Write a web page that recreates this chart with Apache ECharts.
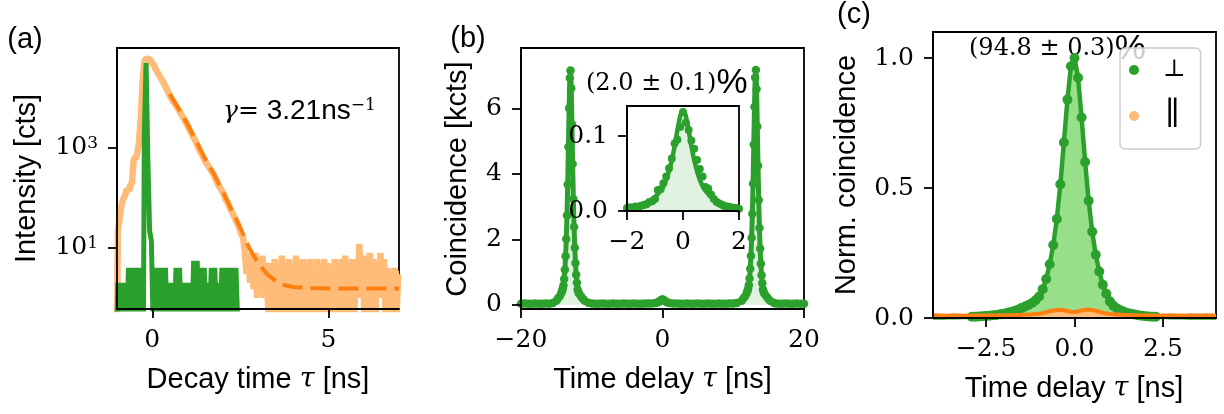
<!DOCTYPE html>
<html><head><meta charset="utf-8">
<script src="https://cdn.jsdelivr.net/npm/echarts@6/dist/echarts.min.js"></script>
<style>html,body{margin:0;padding:0;background:#fff}#c{width:1224px;height:414px}</style>
</head><body><div id="c"></div>
<script>
// ---------- Panel (a): decay histogram (log scale) ----------
const aStart = -1.0, aStep = 0.05;   // time axis of the histograms [ns]
const aDecay = [
 0.3,22,40,70,95,110,150,140,180,200,600,650,800,1300,4000,20000,55000,62000,60000,56000,
 50000,46000,40000,35000,30000,26000,23000,20000,17000,14500,12000,10300,8900,8000,7000,6200,5400,4700,4100,3550,
 3050,2600,2200,1900,1600,1380,1150,960,820,700,600,510,450,400,350,310,260,220,180,160,
 140,120,95,85,70,58,50,42,36,30,24,19,16,9,3,8,2,7,1.5,8,
 1,6,2,7,1,5,1,0.3,
 5,0.3,6,0.3,4,0.3,7,0.3,5,0.3,6,0.3,4,0.3,7,0.3,5,0.3,6,0.3,5,0.3,6,0.3,4,0.3,6,0.3,5,0.3,6,0.3,
 5,0.3,4,0.3,6,0.3,5,0.3,6,0.3,7,0.3,5,0.3,6,0.3,5,1,12,1,5,0.3,7,0.3,8,0.3,6,0.3,5,1,8,1,6,0.3,
 4,0.3,3,0.3,4,0.3,3
];
const aIrf = [
 0.3,2,0.3,2,0.3,2,0.3,4,0.3,4,0.3,4,0.3,4,0.3,0.3,2000,50000,600,22,
 14,0.3,4,0.3,4,0.3,4,0.3,4,0.3,2,0.3,2,0.3,4,0.3,4,0.3,2,0.3,
 2,0.3,2,0.3,5.5,0.3,5.5,0.3,4,0.3,4,0.3,2,0.3,4,0.3,4,0.3,2,0.3,
 4,0.3,4,0.3,4,0.3,4,0.3,4,0.3
];
const aFitTime  = [0.5,0.75,1,1.25,1.5,1.75,2,2.25,2.5,2.75,3,3.25,3.5,3.75,4,4.5,5,6,7];
const aFitValue = [12000,6000,3000,1350,600,300,135,58,25,10,5.0,3.0,2.2,1.8,1.65,1.57,1.55,1.55,1.55];
const aTicksX = [0,5];
const aTicksY = [10,1000];

// ---------- Panel (b): coincidence histogram [kcts] ----------
const bPoints = [
 [-20,0.03],[-19.5,0.04],[-19,0.03],[-18.5,0.03],[-18,0.04],[-17.5,0.03],[-17,0.03],[-16.5,0.04],[-16,0.03],[-15.5,0.05],
 [-15,0.12],[-14.75,0.20],[-14.5,0.27],[-14.3,0.36],[-14.2,0.42],[-14.1,0.49],[-14,0.59],[-13.9,0.79],[-13.8,1.07],[-13.7,1.48],
 [-13.6,2.01],[-13.5,2.73],[-13.4,3.68],[-13.3,4.83],[-13.2,6.01],[-13.1,6.93],[-13,7.16],[-12.9,6.62],[-12.8,5.52],[-12.7,4.30],
 [-12.6,3.23],[-12.5,2.38],[-12.4,1.74],[-12.3,1.28],[-12.2,0.92],[-12.1,0.67],[-12,0.47],[-11.9,0.39],[-11.8,0.34],[-11.5,0.25],
 [-11.25,0.18],[-11,0.12],[-10.5,0.06],
 [-10,0.04],[-9.5,0.03],[-9,0.03],[-8.5,0.04],[-8,0.03],[-7.5,0.03],[-7,0.04],[-6.5,0.03],[-6,0.03],[-5.5,0.04],[-5,0.03],
 [-4.5,0.03],[-4,0.04],[-3.5,0.03],[-3,0.03],[-2.5,0.04],[-2,0.04],
 [-1.5,0.04],[-1,0.05],[-0.7,0.07],[-0.5,0.09],[-0.3,0.12],[-0.2,0.14],[-0.1,0.155],[0,0.16],[0.1,0.155],[0.2,0.14],
 [0.3,0.12],[0.5,0.09],[0.7,0.07],[1,0.05],[1.5,0.04],
 [2,0.04],[2.5,0.03],[3,0.03],[3.5,0.04],[4,0.03],[4.5,0.03],[5,0.04],[5.5,0.03],[6,0.03],[6.5,0.04],[7,0.03],[7.5,0.03],
 [8,0.04],[8.5,0.03],[9,0.03],[9.5,0.04],[10,0.04],[10.5,0.05],
 [11.2,0.12],[11.45,0.20],[11.7,0.27],[11.9,0.36],[12,0.42],[12.1,0.49],[12.2,0.60],[12.3,0.80],[12.4,1.10],[12.5,1.50],
 [12.6,2.05],[12.7,2.78],[12.8,3.70],[12.9,4.90],[13,6.05],[13.1,6.95],[13.2,7.18],[13.3,6.60],[13.4,5.45],[13.5,4.25],
 [13.6,3.20],[13.7,2.35],[13.8,1.72],[13.9,1.25],[14,0.90],[14.1,0.66],[14.2,0.47],[14.3,0.39],[14.4,0.34],[14.7,0.25],
 [14.95,0.18],[15.2,0.12],[15.7,0.06],
 [16,0.04],[16.5,0.03],[17,0.03],[17.5,0.04],[18,0.03],[18.5,0.03],[19,0.04],[19.5,0.03],[20,0.03]
];
const bTicksX = [-20,0,20];
const bTicksY = [0,2,4,6];

// inset of (b): central peak
const iStart = -2.0, iStep = 0.1;
const iCounts = [
 0.004,0.005,0.004,0.006,0.005,0.007,0.008,0.009,0.012,0.013,0.016,0.028,0.029,0.037,0.046,0.057,0.070,0.090,0.095,0.112,
 0.132,
 0.118,0.108,0.094,0.083,0.068,0.056,0.046,0.032,0.030,0.022,0.016,0.012,0.010,0.008,0.006,0.006,0.005,0.004,0.004,0.003
];
const iFit = [
 0.0052,0.0057,0.0063,0.0071,0.0078,0.0089,0.0102,0.0117,0.0135,0.0158,0.0186,0.0226,0.027,0.033,0.0415,0.053,0.0675,0.086,0.108,0.127,
 0.135,
 0.127,0.108,0.086,0.0675,0.053,0.0415,0.033,0.027,0.0226,0.0186,0.0158,0.0135,0.0117,0.0102,0.0089,0.0078,0.0071,0.0063,0.0057,0.0052
];
const iTicksX = [-2,0,2];
const iTicksY = [0,0.1];

// ---------- Panel (c): normalised coincidence ----------
const cStart = -4.0, cStep = 0.1;
const cPerp = [
 0.002,0.002,0.002,0.002,0.003,0.003,0.003,0.003,0.004,0.004,0.004,0.005,0.005,0.006,0.007,0.008,0.009,0.011,0.012,0.014,
 0.016,0.020,0.023,0.027,0.032,0.038,0.044,0.050,0.058,0.068,0.083,0.111,0.150,0.207,0.281,0.381,0.514,0.675,0.840,0.968,
 1.000,
 0.924,0.771,0.600,0.451,0.332,0.243,0.179,0.128,0.093,0.064,0.047,0.037,0.030,0.024,0.019,0.016,0.013,0.011,0.009,0.007,
 0.006,0.005,0.005,0.004,0.004,0.004,0.003,0.003,0.003,0.003,0.003,0.002,0.002,0.002,0.002,0.002,0.002,0.002,0.002,0.002
];
const cPar = [
 0.010,0.011,0.010,0.010,0.009,0.010,0.011,0.010,0.010,0.009,0.010,0.010,0.011,0.010,0.010,0.010,0.011,0.010,0.010,0.011,
 0.011,0.011,0.011,0.012,0.012,0.012,0.013,0.013,0.014,0.015,0.016,0.019,0.022,0.026,0.029,0.031,0.032,0.030,0.027,0.024,
 0.023,
 0.025,0.029,0.032,0.033,0.031,0.028,0.024,0.020,0.017,0.015,0.014,0.013,0.013,0.012,0.012,0.011,0.011,0.011,0.010,0.010,
 0.011,0.010,0.010,0.009,0.010,0.010,0.011,0.010,0.010,0.010,0.009,0.010,0.011,0.010,0.010,0.010,0.011,0.010,0.010,0.010
];
const cTicksX = [-2.5,0,2.5];
const cTicksY = [0,0.5,1.0];

// ---------- helpers ----------
const SERIF = '"DejaVu Serif","Liberation Serif",serif';
const SANS = '"Liberation Sans","DejaVu Sans",sans-serif';
const MINUS = '\u2212';
const fmt = (v, d) => (v < -1e-9 ? MINUS : '') + Math.abs(v).toFixed(d);
const pts = (start, step, arr) => arr.map((v, i) => [+(start + i * step).toFixed(3), v]);

function axisBase(grid, ticks, dec, extra) {
  return Object.assign({
    gridIndex: grid, splitLine: {show: false},
    axisLine: {show: true, onZero: false, lineStyle: {color: '#000', width: 1.8}},
    axisTick: {show: true, customValues: ticks, length: 9, lineStyle: {color: '#000', width: 1.8}},
    axisLabel: {customValues: ticks, margin: 19, color: '#000', fontFamily: SERIF, fontSize: 25,
      formatter: v => fmt(v, dec)},
    z: 5
  }, extra);
}

const gridBox = {show: true, borderColor: '#000', borderWidth: 1.8, backgroundColor: 'transparent'};

const chart = echarts.init(document.getElementById('c'), null, {renderer: 'canvas'});
const option = {
  animation: false,
  backgroundColor: '#fff',
  grid: [
    Object.assign({left: 117, top: 48, width: 282, height: 261}, gridBox),
    Object.assign({left: 521, top: 48, width: 283, height: 261}, gridBox),
    Object.assign({left: 627, top: 106, width: 112, height: 105}, gridBox, {backgroundColor: '#fff'}),
    Object.assign({left: 933, top: 32, width: 283, height: 286}, gridBox)
  ],
  xAxis: [
    axisBase(0, aTicksX, 0, {type: 'value', min: -1, max: 7}),
    axisBase(1, bTicksX, 0, {type: 'value', min: -20, max: 20}),
    axisBase(2, iTicksX, 0, {type: 'value', min: -2, max: 2}),
    axisBase(3, cTicksX, 1, {type: 'value', min: -4, max: 4})
  ],
  yAxis: [
    axisBase(0, aTicksY, 0, {type: 'log', logBase: 10, min: 0.6, max: 100000,
      axisLabel: {customValues: aTicksY, margin: 19, color: '#000',
        formatter: v => '{b|10}{s|' + Math.round(Math.log10(v)) + '}',
        rich: {b: {fontFamily: SERIF, fontSize: 25, color: '#000'},
               s: {fontFamily: SERIF, fontSize: 17, color: '#000', verticalAlign: 'top', lineHeight: 14}}}}),
    axisBase(1, bTicksY, 0, {type: 'value', min: -0.13, max: 7.85}),
    axisBase(2, iTicksY, 1, {type: 'value', min: 0, max: 0.14}),
    axisBase(3, cTicksY, 1, {type: 'value', min: 0, max: 1.1})
  ],
  legend: {
    data: ['\u22A5', '\u2225'], orient: 'vertical', left: 1120, top: 48,
    icon: 'circle', itemWidth: 10, itemHeight: 10, itemGap: 18,
    padding: [10, 15, 17, 9], selectedMode: false,
    backgroundColor: 'rgba(255,255,255,0.8)', borderColor: '#cccccc', borderWidth: 1.5, borderRadius: 5,
    formatter: n => n === '\u22A5' ? '{p|\u22A5}' : '{q|\u2225}',
    textStyle: {color: '#000', rich: {
      p: {fontFamily: '"DejaVu Serif",serif', fontSize: 24, lineHeight: 28, padding: [0, 0, 0, 19], color: '#000'},
      q: {fontFamily: '"Liberation Serif","DejaVu Serif",serif', fontSize: 32, lineHeight: 28, padding: [0, 0, 0, 21], color: '#000'}}}
  },
  series: [
    {name: 'decay', type: 'line', xAxisIndex: 0, yAxisIndex: 0, data: pts(aStart, aStep, aDecay),
     step: 'middle', symbol: 'none', lineStyle: {color: '#ffbb78', width: 6.5}, z: 2},
    {name: 'irf', type: 'line', xAxisIndex: 0, yAxisIndex: 0, data: pts(aStart, aStep, aIrf),
     step: 'middle', symbol: 'none', lineStyle: {color: '#2ca02c', width: 5}, z: 3},
    {name: 'fit', type: 'line', xAxisIndex: 0, yAxisIndex: 0, data: aFitTime.map((t, i) => [t, aFitValue[i]]),
     symbol: 'none', lineStyle: {color: '#ff7f0e', width: 4, type: [20, 8]}, z: 4},

    {name: 'coinc', type: 'line', xAxisIndex: 1, yAxisIndex: 1, data: bPoints,
     symbol: 'circle', symbolSize: 8.5, itemStyle: {color: '#2ca02c'},
     lineStyle: {color: '#2ca02c', width: 5}, areaStyle: {color: 'rgba(44,160,44,0.2)'}},
    {name: 'insetData', type: 'line', xAxisIndex: 2, yAxisIndex: 2, data: pts(iStart, iStep, iCounts),
     symbol: 'circle', symbolSize: 8, itemStyle: {color: '#2ca02c'},
     lineStyle: {width: 0}, areaStyle: {color: 'rgba(44,160,44,0.2)'}},
    {name: 'insetFit', type: 'line', xAxisIndex: 2, yAxisIndex: 2, data: pts(iStart, iStep, iFit),
     symbol: 'none', lineStyle: {color: '#2ca02c', width: 4.5}},

    {name: '\u22A5', type: 'line', xAxisIndex: 3, yAxisIndex: 3, data: pts(cStart, cStep, cPerp),
     symbol: 'circle', symbolSize: v => (v[1] < 0.005 ? 0 : 10), itemStyle: {color: '#2ca02c'},
     lineStyle: {color: '#2ca02c', width: 4.5}, areaStyle: {color: '#98df8a', opacity: 1}, z: 2},
    {name: '\u2225', type: 'line', xAxisIndex: 3, yAxisIndex: 3, data: pts(cStart, cStep, cPar),
     symbol: 'none', itemStyle: {color: '#ffbb78'},
     lineStyle: {color: '#ff7f0e', width: 4}, areaStyle: {color: '#ffbb78', opacity: 1}, z: 3}
  ],
  graphic: {elements: [
    // panel letters
    {type: 'text', x: 25, y: 39.5, style: {text: '(a)', fontFamily: SANS, fontSize: 29, fill: '#000', textAlign: 'center', textVerticalAlign: 'middle'}},
    {type: 'text', x: 468, y: 39, style: {text: '(b)', fontFamily: SANS, fontSize: 29, fill: '#000', textAlign: 'center', textVerticalAlign: 'middle'}},
    {type: 'text', x: 854, y: 15, style: {text: '(c)', fontFamily: SANS, fontSize: 29, fill: '#000', textAlign: 'center', textVerticalAlign: 'middle'}},
    // axis titles
    {type: 'text', x: 27, y: 178.5, rotation: Math.PI / 2, style: {text: 'Intensity [cts]', fontFamily: SANS, fontSize: 29, fill: '#000', textAlign: 'center', textVerticalAlign: 'middle'}},
    {type: 'text', x: 258, y: 380.3, style: {text: 'Decay time {t|\u03C4} [ns]', fontFamily: SANS, fontSize: 29, fill: '#000', textAlign: 'center', textVerticalAlign: 'middle',
      rich: {t: {fontFamily: SERIF, fontStyle: 'italic', fontSize: 27, fill: '#000'}}}},
    {type: 'text', x: 458, y: 179, rotation: Math.PI / 2, style: {text: 'Coincidence [kcts]', fontFamily: SANS, fontSize: 29, fill: '#000', textAlign: 'center', textVerticalAlign: 'middle'}},
    {type: 'text', x: 662.5, y: 380.3, style: {text: 'Time delay {t|\u03C4} [ns]', fontFamily: SANS, fontSize: 29, fill: '#000', textAlign: 'center', textVerticalAlign: 'middle',
      rich: {t: {fontFamily: SERIF, fontStyle: 'italic', fontSize: 27, fill: '#000'}}}},
    {type: 'text', x: 846.5, y: 175, rotation: Math.PI / 2, style: {text: 'Norm. coincidence', fontFamily: SANS, fontSize: 29, fill: '#000', textAlign: 'center', textVerticalAlign: 'middle'}},
    {type: 'text', x: 1074, y: 388.8, style: {text: 'Time delay {t|\u03C4} [ns]', fontFamily: SANS, fontSize: 29, fill: '#000', textAlign: 'center', textVerticalAlign: 'middle',
      rich: {t: {fontFamily: SERIF, fontStyle: 'italic', fontSize: 27, fill: '#000'}}}},
    // annotations
    {type: 'text', x: 223, y: 111, z: 1, style: {text: '{g|\u03B3}{e|=} {n|3.21ns}{s|\u22121}', fontFamily: SANS, fontSize: 28, fill: '#000', textAlign: 'left', textVerticalAlign: 'middle',
      rich: {g: {fontFamily: SERIF, fontStyle: 'italic', fontSize: 25, fill: '#000'},
             e: {fontFamily: SERIF, fontSize: 25, fill: '#000'},
             n: {fontFamily: SANS, fontSize: 28, fill: '#000'},
             s: {fontFamily: SERIF, fontSize: 17, fill: '#000', verticalAlign: 'top', lineHeight: 12}}}},
    {type: 'text', x: 586, y: 83.5, z: 1, style: {text: '(2.0 \u00B1 0.1){p|%}', fontFamily: SERIF, fontSize: 24, fill: '#000', textAlign: 'left', textVerticalAlign: 'middle',
      rich: {p: {fontFamily: SANS, fontSize: 35, fill: '#000'}}}},
    {type: 'text', x: 969, y: 49.2, z: 1, style: {text: '(94.8 \u00B1 0.3){p|%}', fontFamily: SERIF, fontSize: 24, fill: '#000', textAlign: 'left', textVerticalAlign: 'middle',
      rich: {p: {fontFamily: SANS, fontSize: 35, fill: '#000'}}}}
  ]}
};
chart.setOption(option);
</script></body></html>
